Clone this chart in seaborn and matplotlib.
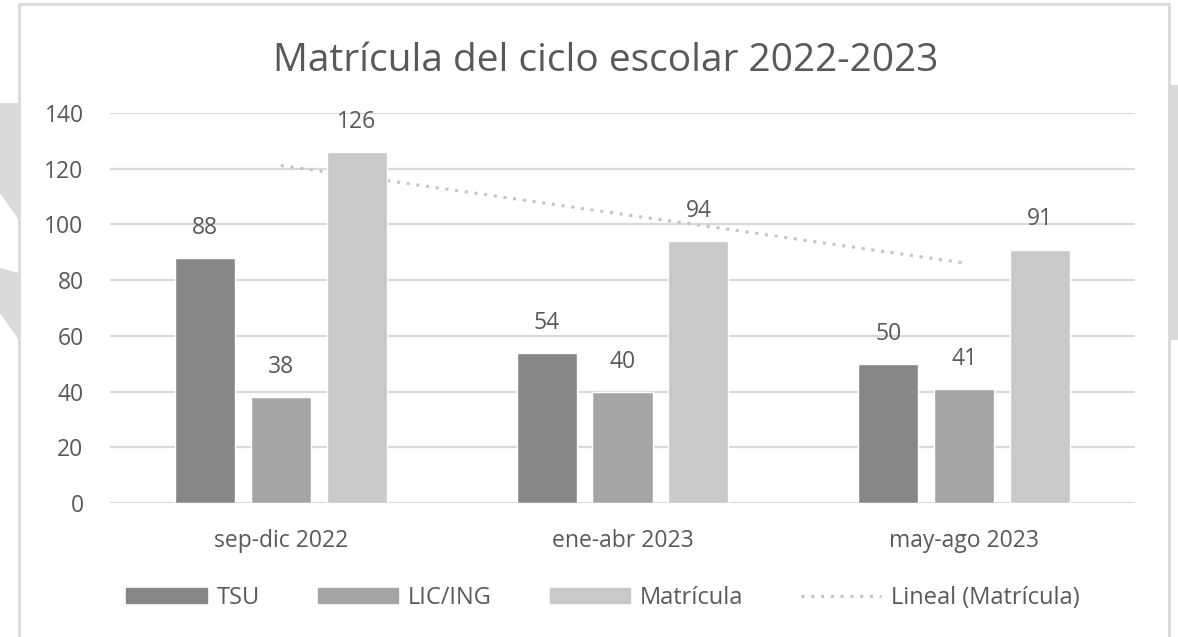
"""
Matrícula del ciclo escolar 2022-2023: barras agrupadas por cuatrimestre
con línea de tendencia lineal sobre la matrícula total.
"""

import numpy as np
import pandas as pd
import matplotlib
matplotlib.use("Agg")
import matplotlib.pyplot as plt
import matplotlib.patches as mpatches
from matplotlib.lines import Line2D
import seaborn as sns

# ─── Datos ──────────────────────────────────────────────────────────────────

PERIODOS = ["sep-dic 2022", "ene-abr 2023", "may-ago 2023"]
SERIES = ["TSU", "LIC/ING", "Matrícula"]
TSU = [88, 54, 50]
LIC_ING = [38, 40, 41]
MATRICULA = [126, 94, 91]

TITULO = "Matrícula del ciclo escolar 2022-2023"
ETIQUETA_TENDENCIA = "Lineal (Matrícula)"
YTICKS = [0, 20, 40, 60, 80, 100, 120, 140]

# ─── Estilo ─────────────────────────────────────────────────────────────────

COLORES = {"TSU": "#878787", "LIC/ING": "#a5a5a5", "Matrícula": "#c9c9c9"}
GRIS_TEXTO = "#595959"
GRIS_REJILLA = "#d9d9d9"
GRIS_TENDENCIA = "#c4c4c4"
GRIS_FONDO = "#dadada"

sns.set_theme(style="white")
plt.rcParams["font.family"] = ["Open Sans", "DejaVu Sans"]

# ─── DataFrame largo ────────────────────────────────────────────────────────

df = pd.DataFrame({
    "Periodo": PERIODOS * 3,
    "Serie": ["TSU"] * 3 + ["LIC/ING"] * 3 + ["Matrícula"] * 3,
    "Alumnos": TSU + LIC_ING + MATRICULA,
})

# ─── Figura ─────────────────────────────────────────────────────────────────

W, H = 1178, 637
fig = plt.figure(figsize=(W / 100, H / 100), dpi=100)
fig.patch.set_facecolor("white")

# formas grises de fondo (fuera del recuadro del gráfico)
for vertices in (
    [(0, 103), (19, 103), (19, 220), (0, 193)],
    [(0, 268), (19, 273), (19, 340), (0, 313)],
    [(1170, 85), (1178, 85), (1178, 340), (1170, 340)],
):
    fig.patches.append(mpatches.Polygon(
        [(x / W, 1 - y / H) for x, y in vertices], closed=True,
        transform=fig.transFigure, facecolor=GRIS_FONDO, edgecolor="none",
        zorder=-2))

# recuadro del área del gráfico
fig.patches.append(mpatches.Rectangle(
    (19 / W, -0.05), 1150 / W, 1.05 - 4 / H,
    transform=fig.transFigure, facecolor="white", edgecolor=GRIS_REJILLA,
    linewidth=2, zorder=-1))

ax = fig.add_axes([110 / W, 1 - 503 / H, 1025 / W, 390 / H])
ax.set_zorder(1)
ax.set_facecolor("none")

sns.barplot(
    data=df, x="Periodo", y="Alumnos", hue="Serie",
    hue_order=SERIES, order=PERIODOS, palette=COLORES,
    width=0.667, gap=0.21, saturation=1, ax=ax, legend=False, zorder=3,
)

for contenedor in ax.containers:
    ax.bar_label(contenedor, padding=13, fontsize=16.5, color=GRIS_TEXTO)

# línea de tendencia lineal de la matrícula
x_pos = np.arange(len(PERIODOS))
pendiente, ordenada = np.polyfit(x_pos, MATRICULA, 1)
ax.plot(x_pos, pendiente * x_pos + ordenada, linestyle=(0, (1, 2.2)),
        linewidth=2.2, color=GRIS_TENDENCIA, zorder=2)

# ejes
ax.set_xlim(-0.5, 2.5)
ax.set_ylim(0, 140)
ax.set_yticks(YTICKS)
ax.yaxis.grid(True, color=GRIS_REJILLA, linewidth=1.6, zorder=0)
ax.set_axisbelow(True)
for lado in ["top", "right", "left", "bottom"]:
    ax.spines[lado].set_visible(False)
ax.set_xlabel("")
ax.set_ylabel("")
ax.tick_params(axis="y", length=0, pad=19, labelsize=16.5, labelcolor=GRIS_TEXTO)
ax.tick_params(axis="x", length=0, pad=19, labelsize=16.5, labelcolor=GRIS_TEXTO)

fig.text(0.514, 1 - 61 / H, TITULO, ha="center", va="center",
         fontsize=28, color=GRIS_TEXTO)

# leyenda
manejadores = [mpatches.Patch(color=COLORES[s], label=s) for s in SERIES]
manejadores.append(Line2D([0], [0], linestyle=(0, (1, 2.2)), linewidth=2.2,
                          color=GRIS_TENDENCIA, label=ETIQUETA_TENDENCIA))
fig.legend(handles=manejadores, loc="center", ncol=4,
           bbox_to_anchor=(0.512, 1 - 598 / H), frameon=False,
           fontsize=17, labelcolor=GRIS_TEXTO, handlelength=3.4,
           handleheight=0.62, handletextpad=0.42, columnspacing=2.45)

fig.savefig("out.png", dpi=100, facecolor="white")
